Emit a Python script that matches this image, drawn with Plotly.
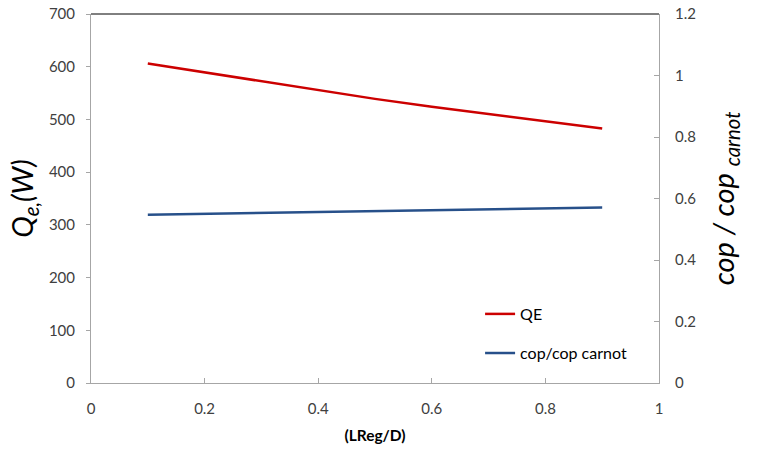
import plotly.graph_objects as go

x_vals = [0.1, 0.2, 0.3, 0.4, 0.5, 0.6, 0.7, 0.8, 0.9]
qe_vals = [606, 589, 572, 555, 539, 524, 510, 496, 483]
cop_ratio_vals = [0.547, 0.550, 0.553, 0.556, 0.559, 0.562, 0.565, 0.568, 0.571]

FONT = "Lato"
TICK_COLOR = "#404040"
AXIS_COLOR = "#A6A6A6"

fig = go.Figure()
fig.add_trace(go.Scatter(x=x_vals, y=qe_vals, mode="lines", name="QE", showlegend=True,
                         line=dict(color="#CC0000", width=2.5), legend="legend"))
fig.add_trace(go.Scatter(x=x_vals, y=cop_ratio_vals, mode="lines", name="cop/cop carnot",
                         showlegend=True,
                         line=dict(color="#27508A", width=2.5), yaxis="y2", legend="legend2"))

fig.update_layout(
    width=758, height=451,
    showlegend=True,
    margin=dict(l=91, r=99, t=14, b=68, autoexpand=False),
    paper_bgcolor="white", plot_bgcolor="white",
    font=dict(family=FONT, size=15, color=TICK_COLOR),
    xaxis=dict(range=[0, 1], dtick=0.2, tick0=0, showgrid=False, zeroline=False,
               showline=True, linecolor=AXIS_COLOR, linewidth=1, automargin=False,
               ticks="inside", ticklen=5, tickcolor=AXIS_COLOR,
               ticklabelstandoff=12,
               title=dict(text="<b>(LReg/D)</b>", font=dict(size=15.5, color="#000000"), standoff=14)),
    yaxis=dict(range=[0, 700], dtick=100, showgrid=False, zeroline=False,
               showline=True, linecolor=AXIS_COLOR, linewidth=1, automargin=False,
               ticks="outside", ticklen=4, tickcolor=AXIS_COLOR,
               ticklabelstandoff=8,
               title=dict(text="<i>Q<sub>e,</sub>(W)</i>", font=dict(size=29, color="#000000"), standoff=6)),
    yaxis2=dict(range=[0, 1.2], dtick=0.2, overlaying="y", side="right", showgrid=False,
                zeroline=False, showline=True, linecolor=AXIS_COLOR, linewidth=1, automargin=False,
                ticks="inside", ticklen=5, tickcolor=AXIS_COLOR,
                ticklabelstandoff=12,
                title=dict(text="<i>cop / cop <sub>carnot</sub></i>", font=dict(size=29, color="#000000"), standoff=18)),
    legend=dict(x=0.685, y=0.187, xanchor="left", yanchor="middle",
                bgcolor="rgba(0,0,0,0)", font=dict(size=16, color="#000000")),
    legend2=dict(x=0.685, y=0.081, xanchor="left", yanchor="middle",
                 bgcolor="rgba(0,0,0,0)", font=dict(size=16, color="#000000")),
    shapes=[dict(type="line", xref="paper", yref="paper", x0=0, x1=1, y0=1, y1=1,
                 line=dict(color="#000000", width=1))],
)

fig.write_html("out.html")
